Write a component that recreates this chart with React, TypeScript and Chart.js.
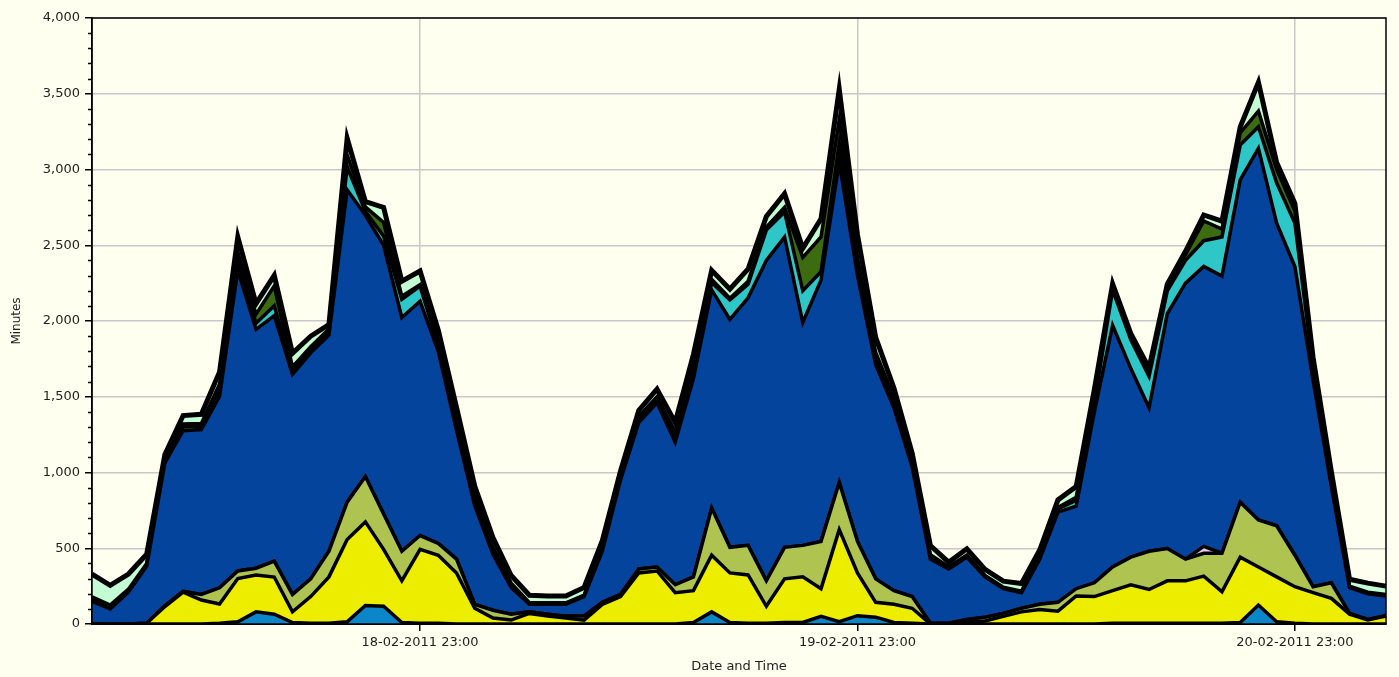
import React, { useEffect, useRef } from 'react';
import { Chart, registerables } from 'chart.js';

Chart.register(...registerables);

const CATEGORIES: string[] = [
  '18-02-2011 05:00', '18-02-2011 06:00', '18-02-2011 07:00', '18-02-2011 08:00', '18-02-2011 09:00',
  '18-02-2011 10:00', '18-02-2011 11:00', '18-02-2011 12:00', '18-02-2011 13:00', '18-02-2011 14:00',
  '18-02-2011 15:00', '18-02-2011 16:00', '18-02-2011 17:00', '18-02-2011 18:00', '18-02-2011 19:00',
  '18-02-2011 20:00', '18-02-2011 21:00', '18-02-2011 22:00', '18-02-2011 23:00',
  '19-02-2011 00:00', '19-02-2011 01:00', '19-02-2011 02:00', '19-02-2011 03:00', '19-02-2011 04:00',
  '19-02-2011 05:00', '19-02-2011 06:00', '19-02-2011 07:00', '19-02-2011 08:00', '19-02-2011 09:00',
  '19-02-2011 10:00', '19-02-2011 11:00', '19-02-2011 12:00', '19-02-2011 13:00', '19-02-2011 14:00',
  '19-02-2011 15:00', '19-02-2011 16:00', '19-02-2011 17:00', '19-02-2011 18:00', '19-02-2011 19:00',
  '19-02-2011 20:00', '19-02-2011 21:00', '19-02-2011 22:00', '19-02-2011 23:00',
  '20-02-2011 00:00', '20-02-2011 01:00', '20-02-2011 02:00', '20-02-2011 03:00', '20-02-2011 04:00',
  '20-02-2011 05:00', '20-02-2011 06:00', '20-02-2011 07:00', '20-02-2011 08:00', '20-02-2011 09:00',
  '20-02-2011 10:00', '20-02-2011 11:00', '20-02-2011 12:00', '20-02-2011 13:00', '20-02-2011 14:00',
  '20-02-2011 15:00', '20-02-2011 16:00', '20-02-2011 17:00', '20-02-2011 18:00', '20-02-2011 19:00',
  '20-02-2011 20:00', '20-02-2011 21:00', '20-02-2011 22:00', '20-02-2011 23:00',
  '21-02-2011 00:00', '21-02-2011 01:00', '21-02-2011 02:00', '21-02-2011 03:00', '21-02-2011 04:00',
];

const X_TICK_LABELS: string[] = ['18-02-2011 23:00', '19-02-2011 23:00', '20-02-2011 23:00'];

const Y_MIN = 0;
const Y_MAX = 4000;
const Y_MAJOR_STEP = 500;
const Y_MINOR_STEP = 100;

const LIGHT_BLUE: number[] = [
  0, 0, 0, 0, 0, 0, 0, 5, 15, 80,
  65, 10, 5, 5, 15, 122, 117, 10, 5, 5,
  0, 0, 0, 0, 0, 0, 0, 0, 0, 0,
  0, 0, 0, 10, 80, 10, 5, 5, 10, 10,
  50, 15, 55, 45, 10, 5, 0, 0, 0, 0,
  0, 0, 0, 0, 0, 0, 5, 5, 5, 5,
  5, 5, 5, 10, 125, 15, 5, 0, 0, 0,
  0, 0,
];

const YELLOW: number[] = [
  0, 0, 0, 5, 115, 210, 158, 127, 285, 244,
  245, 70, 176, 306, 543, 552, 376, 275, 488, 449,
  337, 104, 39, 26, 70, 52, 39, 26, 130, 181,
  337, 350, 207, 210, 374, 327, 319, 112, 288, 301,
  183, 608, 282, 98, 120, 99, 0, 0, 13, 20,
  50, 80, 95, 85, 185, 181, 215, 254, 223, 280,
  280, 311, 208, 431, 251, 296, 241, 207, 169, 65,
  26, 52,
];

const OLIVE: number[] = [
  0, 0, 0, 0, 5, 5, 37, 107, 50, 44,
  105, 115, 117, 169, 246, 299, 233, 195, 91, 78,
  91, 26, 52, 39, 10, 13, 13, 26, 13, 14,
  26, 26, 52, 91, 311, 169, 195, 168, 208, 208,
  312, 311, 208, 155, 90, 77, 5, 5, 17, 25,
  20, 24, 35, 58, 48, 91, 156, 182, 252, 213,
  143, 151, 254, 363, 311, 337, 208, 39, 103, 5,
  4, 3,
];

const PINK: number[] = [
  0, 0, 0, 0, 0, 0, 0, 0, 0, 0,
  0, 0, 0, 0, 0, 0, 0, 0, 0, 0,
  0, 0, 0, 0, 0, 0, 0, 0, 0, 0,
  0, 0, 0, 0, 0, 0, 0, 0, 0, 0,
  0, 0, 0, 0, 0, 0, 0, 0, 0, 0,
  0, 0, 0, 0, 0, 0, 0, 0, 0, 0,
  0, 45, 0, 0, 0, 0, 0, 0, 0, 0,
  0, 0,
];

const DARK_BLUE: number[] = [
  150, 100, 210, 375, 943, 1061, 1089, 1265, 1985, 1577,
  1621, 1452, 1492, 1427, 2062, 1725, 1774, 1543, 1546, 1268,
  852, 650, 369, 175, 50, 65, 78, 129, 337, 755,
  967, 1084, 941, 1309, 1440, 1504, 1634, 2115, 2048, 1471,
  1725, 2116, 1755, 1414, 1207, 857, 423, 358, 411, 266,
  163, 103, 298, 596, 545, 1128, 1595, 1245, 947, 1551,
  1822, 1848, 1829, 2127, 2452, 1998, 1906, 1362, 636, 170,
  170, 130,
];

const TEAL: number[] = [
  15, 15, 10, 10, 20, 25, 20, 40, 50, 40,
  65, 30, 20, 20, 150, 25, 60, 120, 100, 40,
  30, 30, 20, 15, 5, 5, 5, 5, 10, 15,
  20, 20, 30, 40, 50, 130, 90, 200, 166, 210,
  55, 120, 60, 40, 40, 30, 20, 10, 10, 5,
  5, 5, 10, 20, 39, 60, 234, 190, 207, 150,
  150, 170, 259, 230, 143, 265, 286, 80, 40, 5,
  5, 5,
];

const DARK_GREEN: number[] = [
  15, 10, 10, 10, 10, 20, 20, 40, 70, 60,
  130, 20, 20, 20, 80, 30, 90, 20, 10, 40,
  50, 40, 30, 15, 5, 5, 5, 5, 10, 15,
  20, 20, 40, 40, 20, 10, 20, 20, 30, 220,
  230, 160, 60, 40, 30, 20, 10, 5, 5, 5,
  5, 5, 10, 10, 20, 30, 10, 10, 15, 15,
  40, 130, 52, 80, 103, 90, 80, 30, 20, 5,
  5, 5,
];

const MINT: number[] = [
  150, 130, 100, 60, 25, 55, 60, 80, 100, 70,
  70, 90, 70, 30, 110, 35, 100, 100, 90, 60,
  70, 60, 60, 50, 50, 45, 45, 50, 50, 30,
  40, 50, 60, 80, 60, 60, 80, 70, 90, 60,
  120, 200, 150, 100, 60, 40, 60, 30, 40, 40,
  40, 50, 40, 50, 70, 60, 30, 30, 40, 30,
  20, 40, 52, 40, 190, 45, 50, 40, 40, 45,
  60, 55,
];

const BG = '#FFFFF0';
const GRID = '#C8C8C8';
const TEXT = '#1E1E1E';
const FONT = 'DejaVu Sans';

const SERIES = [
  { name: 'Series 1', data: LIGHT_BLUE, color: '#0B87C9' },
  { name: 'Series 2', data: YELLOW, color: '#EDED00' },
  { name: 'Series 3', data: OLIVE, color: '#AFC350' },
  { name: 'Series 4', data: PINK, color: '#F0C8E6' },
  { name: 'Series 5', data: DARK_BLUE, color: '#04449C' },
  { name: 'Series 6', data: TEAL, color: '#2EC6C6' },
  { name: 'Series 7', data: DARK_GREEN, color: '#3D6B10' },
  { name: 'Series 8', data: MINT, color: '#C4FCD4' },
];

const frameAndMinorTicks = {
  id: 'frameAndMinorTicks',
  afterDraw(chart: any) {
    const { ctx, chartArea } = chart;
    const y = chart.scales.y;
    ctx.save();
    ctx.strokeStyle = '#000';
    ctx.lineWidth = 1.5;
    ctx.beginPath();
    for (let v = Y_MIN; v <= Y_MAX; v += Y_MINOR_STEP) {
      if (v % Y_MAJOR_STEP === 0) continue;
      const py = Math.round(y.getPixelForValue(v)) + 0.5;
      ctx.moveTo(chartArea.left - 4, py);
      ctx.lineTo(chartArea.left, py);
    }
    ctx.stroke();
    ctx.strokeRect(chartArea.left, chartArea.top, chartArea.right - chartArea.left, chartArea.bottom - chartArea.top);
    ctx.restore();
  },
};

export default function App() {
  const ref = useRef<HTMLCanvasElement | null>(null);

  useEffect(() => {
    document.body.style.margin = '0';
    document.body.style.background = BG;
    const isLabelTick = (i: number) => X_TICK_LABELS.includes(CATEGORIES[i]);
    const chart = new Chart(ref.current as HTMLCanvasElement, {
      type: 'line',
      data: {
        labels: CATEGORIES,
        datasets: SERIES.map((s, i) => ({
          label: s.name,
          data: s.data,
          backgroundColor: s.color,
          borderColor: '#000000',
          borderWidth: i === SERIES.length - 1 ? 5 : 3.5,
          borderJoinStyle: 'miter',
          fill: i === 0 ? 'origin' : '-1',
          pointRadius: 0,
          pointHoverRadius: 0,
          tension: 0,
        })),
      },
      options: {
        responsive: true,
        maintainAspectRatio: false,
        animation: false,
        events: [],
        layout: { padding: { left: 0, right: 13, top: 18, bottom: 0 } },
        plugins: {
          legend: { display: false },
          tooltip: { enabled: false },
        },
        scales: {
          x: {
            type: 'category',
            offset: false,
            grid: {
              color: (c: any) => (isLabelTick(c.index) ? GRID : 'rgba(0,0,0,0)'),
              tickColor: (c: any) => (isLabelTick(c.index) ? '#000' : 'rgba(0,0,0,0)'),
              lineWidth: 1.5,
              tickLength: 7,
            },
            border: { color: '#000', width: 2 },
            ticks: {
              autoSkip: false,
              maxRotation: 0,
              minRotation: 0,
              padding: 4,
              color: TEXT,
              font: { family: FONT, size: 13 },
              callback: (_v: any, i: number) => (isLabelTick(i) ? CATEGORIES[i] : ''),
            },
            title: {
              display: true,
              text: 'Date and Time',
              color: TEXT,
              font: { family: FONT, size: 13 },
              padding: { top: 0, bottom: 3 },
            },
            afterFit: (s: any) => {
              s.height = 53;
            },
          },
          y: {
            stacked: true,
            min: Y_MIN,
            max: Y_MAX,
            grid: { color: GRID, lineWidth: 1.5, tickColor: '#000', tickLength: 7 },
            border: { color: '#000', width: 1.5 },
            ticks: {
              stepSize: Y_MAJOR_STEP,
              padding: 5,
              color: TEXT,
              font: { family: FONT, size: 13 },
              callback: (v: any) => Number(v).toLocaleString('en-US'),
            },
            title: {
              display: true,
              text: 'Minutes',
              color: TEXT,
              font: { family: FONT, size: 12 },
              padding: { top: 10, bottom: 0 },
            },
            afterFit: (s: any) => {
              s.width = 92;
            },
          },
        },
      },
      plugins: [frameAndMinorTicks],
    } as any);
    return () => chart.destroy();
  }, []);

  return (
    <div style={{ width: 1399, height: 677, background: BG, position: 'relative' }}>
      <canvas ref={ref} />
    </div>
  );
}
